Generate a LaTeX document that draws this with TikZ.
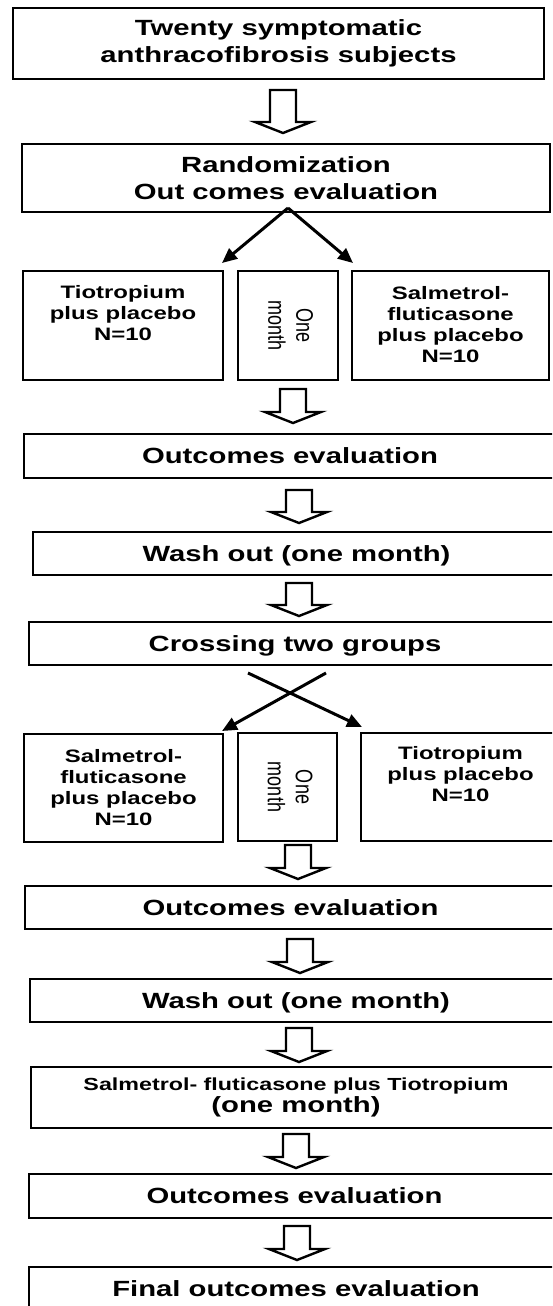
\documentclass[tikz,border=0pt]{standalone}
\usepackage{fontspec}
\usepackage{graphicx}
\setmainfont{Liberation Sans}[FakeStretch=1.33]
\newfontfamily\plainsans{Liberation Sans}
\usetikzlibrary{arrows.meta,calc}
\tikzset{
  box/.style={draw=black, line width=2.6pt, inner sep=0pt, outer sep=0pt, fill=white,
    font=\bfseries\fontsize{22}{26.5}\selectfont, align=center},
  oneline/.style={text height=15.8pt, text depth=0pt},
  rowtext/.style={inner sep=0pt, anchor=north, font=\bfseries\fontsize{18}{21}\selectfont, align=center},
  blockline/.style={draw=black, line width=2.4pt, line join=miter, fill=white},
  diag/.style={line width=3pt, -{Triangle[length=15pt,width=13pt]}},
}
\newcommand\blockarrow[5]{%
  \draw[blockline] let \p1=(#1.south), \p2=(#2.north) in
    ({#3pt-13pt},{\y1-#4pt}) -- ({#3pt+13pt},{\y1-#4pt})
    -- ({#3pt+13pt},{\y2+#5pt+11pt}) -- ({#3pt+28pt},{\y2+#5pt+11pt})
    -- ({#3pt},{\y2+#5pt}) -- ({#3pt-28pt},{\y2+#5pt+11pt})
    -- ({#3pt-13pt},{\y2+#5pt+11pt}) -- cycle;}
\begin{document}
\begin{tikzpicture}[x=1pt, y=-1pt]
\useasboundingbox (0,0) rectangle (552,1306);
\clip (0,0) rectangle (552,1306);
\fill[white] (0,0) rectangle (552,1306);

% main boxes
\node[box, minimum width=531pt, minimum height=71pt] (b1) at (278.5,43.5)
  {Twenty symptomatic\\anthracofibrosis subjects};
\node[box, minimum width=528pt, minimum height=68pt] (b2) at (286,178)
  {Randomization\\Out comes evaluation};

% first treatment row
\node[box, minimum width=200pt, minimum height=109pt] (L1) at (123,325.5) {};
\node[box, minimum width=100pt, minimum height=109pt] (M1) at (288,325.5) {};
\node[box, minimum width=197pt, minimum height=109pt] (R1) at (450.5,325.5) {};
\node[rowtext] (L1t) at ($(L1.north)+(0,14)$) {Tiotropium\\plus placebo\\N=10};
\node[rowtext] (R1t) at ($(R1.north)+(0,15)$) {Salmetrol-\\fluticasone\\plus placebo\\N=10};
\node[inner sep=0pt] (M1t) at (M1.center)
  {\scalebox{1.33}[1]{\rotatebox{-90}{\plainsans\fontsize{18}{21}\selectfont\begin{tabular}{@{}c@{}}One\\month\end{tabular}}}};

\node[box, oneline, minimum width=532pt, minimum height=44pt] (OE1) at (290,456) {Outcomes evaluation};
\node[box, oneline, minimum width=527pt, minimum height=43pt] (W1) at (296.5,553.5) {Wash out (one month)};
\node[box, oneline, minimum width=532pt, minimum height=43pt] (CR) at (295,643.5) {Crossing two groups};

% second treatment row
\node[box, minimum width=199pt, minimum height=108pt] (L2) at (123.5,788) {};
\node[box, minimum width=99pt, minimum height=108pt] (M2) at (287.5,787) {};
\node[box, minimum width=199pt, minimum height=108pt] (R2) at (460.5,787) {};
\node[rowtext] (L2t) at ($(L2.north)+(0,15)$) {Salmetrol-\\fluticasone\\plus placebo\\N=10};
\node[rowtext] (R2t) at ($(R2.north)+(0,13)$) {Tiotropium\\plus placebo\\N=10};
\node[inner sep=0pt] (M2t) at (M2.center)
  {\scalebox{1.33}[1]{\rotatebox{-90}{\plainsans\fontsize{18}{21}\selectfont\begin{tabular}{@{}c@{}}One\\month\end{tabular}}}};

\node[box, oneline, minimum width=531pt, minimum height=43pt] (OE2) at (290.5,907.5) {Outcomes evaluation};
\node[box, oneline, minimum width=532pt, minimum height=43pt] (W2) at (296,1000.5) {Wash out (one month)};
\node[box, minimum width=530pt, minimum height=61pt] (SFT) at (296,1097.5)
  {{\fontsize{17.5}{22}\selectfont Salmetrol- fluticasone plus Tiotropium}\\[-4.5pt](one month)};
\node[box, oneline, minimum width=531pt, minimum height=44pt] (OE3) at (294.5,1196) {Outcomes evaluation};
\node[box, oneline, minimum width=534pt, minimum height=44pt] (FIN) at (296,1289) {Final outcomes evaluation};

% hollow block arrows
\blockarrow{b1}{b2}{283}{11}{11}
\blockarrow{M1}{OE1}{293}{9}{11}
\blockarrow{OE1}{W1}{299}{12}{9}
\blockarrow{W1}{CR}{299}{8}{6}
\blockarrow{M2}{OE2}{298}{4}{7}
\blockarrow{OE2}{W2}{300}{10}{6}
\blockarrow{W2}{SFT}{299}{6}{5}
\blockarrow{SFT}{OE3}{296}{6}{6}
\blockarrow{OE3}{FIN}{297}{8}{7}

% split arrows
\coordinate (split) at ($(b2.south)+(2,-4)$);
\coordinate (tL1) at ($(L1.north east)+(-1,-8)$);
\coordinate (tR1) at ($(R1.north west)+(1,-8)$);
\draw[diag] (split) -- (tL1);
\draw[diag] (split) -- (tR1);

% crossing arrows
\coordinate (xa) at ($(CR.south)+(-47,8)$);
\coordinate (xb) at ($(CR.south)+(31,8)$);
\coordinate (tR2) at ($(R2.north west)+(1,-6)$);
\coordinate (tL2) at ($(L2.north east)+(-1,-3)$);
\draw[diag] (xa) -- (tR2);
\draw[diag] (xb) -- (tL2);
\end{tikzpicture}
\end{document}
